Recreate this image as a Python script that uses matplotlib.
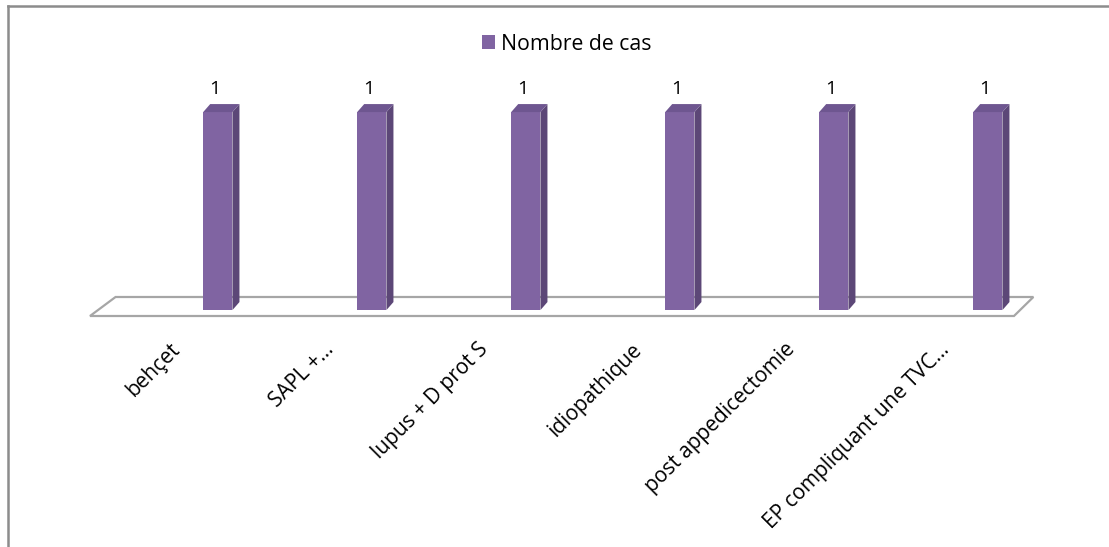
import matplotlib
matplotlib.use("Agg")
import matplotlib.pyplot as plt
from matplotlib.patches import Polygon
from matplotlib.lines import Line2D

plt.rcParams['font.family'] = ['Open Sans', 'DejaVu Sans']

categories = ["behçet", "SAPL +...", "lupus + D prot S", "idiopathique",
              "post appedicectomie", "EP compliquant une TVC..."]
nombre_de_cas = [1, 1, 1, 1, 1, 1]

W, H = 1109, 547
fig = plt.figure(figsize=(W / 100, H / 100), dpi=100)

# plot area in pixels (left, right, bottom, top)
px_l, px_r, px_b, px_t = 90, 1014, 316, 60
ax = fig.add_axes([px_l / W, 1 - px_b / H, (px_r - px_l) / W, (px_b - px_t) / H])
ax.set_xlim(-0.5, len(categories) - 0.5)
ymin, ymax = -0.03, 1.263
ax.set_ylim(ymin, ymax)
ax.axis('off')

# pixel -> data scale
sx = len(categories) / (px_r - px_l)
sy = (ymax - ymin) / (px_b - px_t)

front = '#8064A2'
side = '#5C4777'
top = '#6E5690'
bar_w = 0.19
shift = 0.33          # bars sit deeper than the category labels
ddx, ddy = 7 * sx, 8 * sy

# floor
fd_x, fd_y = 24 * sx, 19 * sy
x0, x1 = -0.5, len(categories) - 0.5
floor = Polygon([(x0, ymin), (x1, ymin), (x1 + fd_x - 0.03, ymin + fd_y),
                 (x0 + fd_x + 0.01, ymin + fd_y)], closed=True,
                facecolor='white', edgecolor='#A6A6A6', linewidth=1.6,
                clip_on=False, zorder=1)
ax.add_patch(floor)

xs = [i + shift for i in range(len(categories))]
bars = ax.bar(xs, nombre_de_cas, width=bar_w, color=front, zorder=3,
              label='Nombre de cas')
for x, v in zip(xs, nombre_de_cas):
    l, r = x - bar_w / 2, x + bar_w / 2
    ax.add_patch(Polygon([(r, 0), (r + ddx, ddy), (r + ddx, v + ddy), (r, v)],
                         closed=True, facecolor=side, edgecolor='none',
                         zorder=3, clip_on=False))
    ax.add_patch(Polygon([(l, v), (r, v), (r + ddx, v + ddy), (l + ddx, v + ddy)],
                         closed=True, facecolor=top, edgecolor='none',
                         zorder=3, clip_on=False))
    ax.text(x - 3 * sx, v + ddy + 6 * sy, str(v), ha='center', va='bottom',
            fontsize=14, color='black')

# category labels
for i, c in enumerate(categories):
    ax.text(i + 2 * sx, ymin - 23 * sy, c, rotation=45, ha='right', va='top',
            rotation_mode='anchor', fontsize=15, color='black')

leg = fig.legend(handles=[bars], loc='center', bbox_to_anchor=(567 / W, 1 - 44 / H),
                 frameon=False, fontsize=15.3, handlelength=0.6, handleheight=0.6,
                 handletextpad=0.3, borderpad=0)

# chart frame
fig.add_artist(Line2D([8 / W, 1], [1 - 6 / H, 1 - 6 / H], color='#8C8C8C', linewidth=1.8))
fig.add_artist(Line2D([8 / W, 8 / W], [0, 1 - 6 / H], color='#8C8C8C', linewidth=1.8))

fig.savefig('out.png', dpi=100)
